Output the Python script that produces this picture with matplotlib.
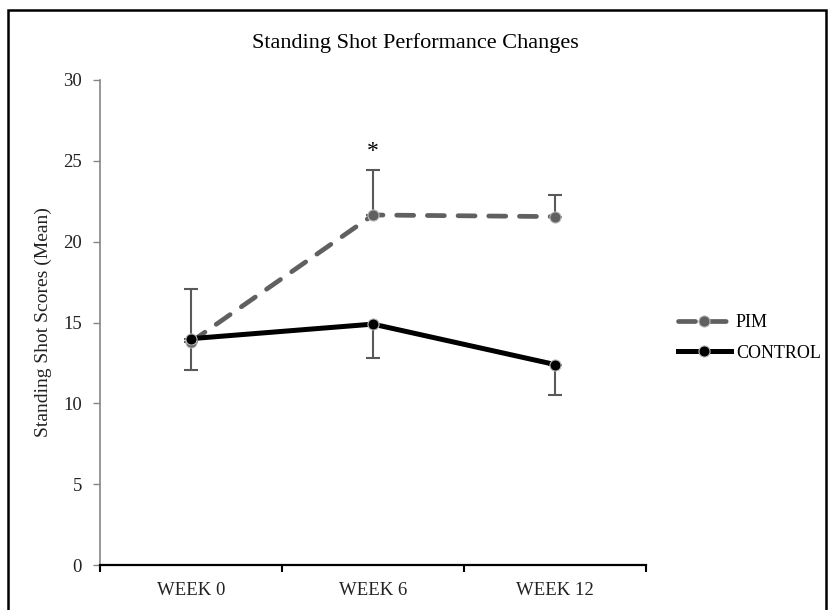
import matplotlib
matplotlib.use("Agg")
import matplotlib.pyplot as plt
from matplotlib.patches import Rectangle

# data
weeks = ["WEEK 0", "WEEK 6", "WEEK 12"]
pim = [13.8, 21.65, 21.55]
pim_err_up = [3.3, 2.8, 1.35]
control = [14.0, 14.9, 12.4]
control_err_down = [1.95, 2.1, 1.9]
star_week = 1
star_y = 25.6

plt.rcParams['font.family'] = ['Liberation Serif', 'DejaVu Serif']

fig = plt.figure(figsize=(8.3, 6.1), dpi=100)
ax = fig.add_axes([100/830, 45/610, 546/830, 485/610])

x = list(range(len(weeks)))
gray = '#595959'

# error bars (one-sided)
ax.errorbar(x, pim, yerr=[[0]*3, pim_err_up], fmt='none', ecolor=gray,
            elinewidth=1.5, capsize=5, capthick=1.5, zorder=2)
ax.errorbar(x, control, yerr=[control_err_down, [0]*3], fmt='none', ecolor=gray,
            elinewidth=1.5, capsize=5, capthick=1.5, zorder=2)

ax.plot(x, pim, color='#606060', lw=3.4, ls=(0, (3.6, 2.9)), marker='o', ms=8,
        mfc='#606060', mec='#bbbbbb', mew=0.8, label='PIM', zorder=3,
        dash_capstyle='round')
ax.plot(x, control, color='black', lw=3.6, marker='o', ms=8,
        mfc='black', mec='#bbbbbb', mew=0.8, label='CONTROL', zorder=4)

ax.text(star_week, star_y, '*', ha='center', va='center', fontsize=17)

ax.set_xlim(-0.5, 2.5)
ax.set_ylim(0, 30)
ax.set_yticks(range(0, 31, 5))
ax.set_xticks([-0.5, 0.5, 1.5, 2.5])
ax.set_xticklabels([])
ax.set_xticks(x, minor=True)
ax.set_xticklabels(weeks, minor=True)
ax.tick_params(axis='x', which='minor', length=0, pad=12, labelsize=13.5,
               labelcolor='#222222')
ax.tick_params(axis='x', which='major', length=5, width=1.5, color='black')
ax.tick_params(axis='y', length=5, width=1, color='#868686', labelsize=13.5,
               pad=8, labelcolor='#222222')

for s in ['top', 'right']:
    ax.spines[s].set_visible(False)
ax.spines['left'].set_color('#868686')
ax.spines['left'].set_linewidth(1.2)
ax.spines['bottom'].set_color('black')
ax.spines['bottom'].set_linewidth(1.6)

ax.set_ylabel('Standing Shot Scores (Mean)', fontsize=14, labelpad=8,
              color='#222222')
fig.text(0.5, 0.93, 'Standing Shot Performance Changes', ha='center',
         va='center', fontsize=16)

ax.legend(loc='center left', bbox_to_anchor=(1.059, 0.468), frameon=False,
          fontsize=13, handlelength=2.9, handletextpad=0.3, labelspacing=0.75,
          borderpad=0, borderaxespad=0)

fig.patches.append(Rectangle((8/830, -0.05), 818/830, 1.05 - 10/610,
                             transform=fig.transFigure, fill=False,
                             edgecolor='black', lw=1.8))

fig.savefig('out.png', dpi=100)
